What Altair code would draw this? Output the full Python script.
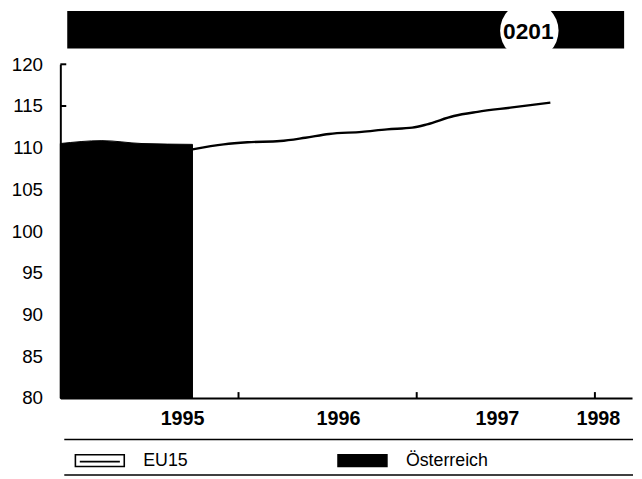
import altair as alt
import pandas as pd

# ---- data (x = months since Jan 1995) ----
years = ["1995", "1996", "1997", "1998"]
year_label_pos = [8.2, 18.7, 29.4, 36.2]
year_ticks = [12, 24, 36]
y_ticks = [80, 85, 90, 95, 100, 105, 110, 115, 120]

oest_m = [0, 2.8, 5.5, 8.9]
oest_v = [110.5, 110.85, 110.5, 110.4]

eu_m = [8.9, 11, 12.6, 14.8, 16.5, 18.1, 20.3, 22, 23.7, 24.7, 26.5, 28.1, 30.3, 33]
eu_v = [109.8, 110.4, 110.65, 110.8, 111.2, 111.65, 111.9, 112.2, 112.4, 112.8, 113.8, 114.3, 114.8, 115.4]

series = ["EU15", "Österreich"]
header_code = "0201"

W, H = 579, 338
FONT = "Liberation Sans"

oest_df = pd.DataFrame({"m": oest_m, "v": oest_v, "s": "Österreich"})
eu_df = pd.DataFrame({"m": eu_m, "v": eu_v, "s": "EU15"})
ytick_df = pd.DataFrame({"v": y_ticks})
xtick_df = pd.DataFrame({"m": year_ticks})
one = pd.DataFrame({"k": [0]})

label_expr = "[" + ",".join(f"'{y}'" for y in years) + "][indexof([" + ",".join(str(p) for p in year_label_pos) + "], datum.value)]"

xscale = alt.Scale(domain=[0, 38.5], nice=False, zero=False)
yscale = alt.Scale(domain=[80, 120], nice=False, zero=False)
xaxis = alt.Axis(values=year_label_pos, labelExpr=label_expr, ticks=False, tickSize=0,
                 labelPadding=11, labelFont=FONT, labelFontSize=20, labelFontWeight="bold",
                 labelColor="black", domainColor="black", domainWidth=2, grid=False,
                 labelFlush=False, labelOverlap=False)
yaxis = alt.Axis(values=y_ticks, ticks=False, tickSize=0, labelPadding=18, labelFont=FONT,
                 labelFontSize=19, labelColor="black", domainColor="black", domainWidth=2,
                 grid=False)

X = alt.X("m:Q", scale=xscale, axis=xaxis, title=None)
Y = alt.Y("v:Q", scale=yscale, axis=yaxis, title=None)

area = alt.Chart(oest_df).mark_area(interpolate="monotone", stroke="black", strokeWidth=1).encode(
    x=X, y=Y, y2=alt.datum(80),
    fill=alt.Fill("s:N", scale=alt.Scale(domain=series, range=["white", "black"]),
                  legend=alt.Legend(title=None, orient="none", legendX=14, legendY=375,
                                    direction="horizontal",
                                    symbolType="M-1,-0.24H1V0.24H-1Z M-0.82,0.04H0.82",
                                    symbolSize=2450,
                                    symbolStrokeColor="black", symbolStrokeWidth=1.6,
                                    labelFont=FONT, labelFontSize=18, labelColor="black",
                                    labelOffset=18, columnPadding=148, padding=0)),
)

line = alt.Chart(eu_df).mark_line(interpolate="monotone", color="black", strokeWidth=2.4).encode(
    x=X, y=Y
)

yt = alt.Chart(ytick_df).mark_rule(color="black", strokeWidth=2).encode(
    y=Y, x=alt.value(0), x2=alt.value(6)
)
xt = alt.Chart(xtick_df).mark_rule(color="black", strokeWidth=2).encode(
    x=X, y=alt.value(H - 6), y2=alt.value(H)
)

bar = alt.Chart(one).mark_rect(color="black").encode(
    x=alt.value(7), x2=alt.value(571), y=alt.value(-54), y2=alt.value(-16)
)
circ = alt.Chart(one).mark_circle(color="white", opacity=1, size=3500).encode(
    x=alt.value(475), y=alt.value(-34)
)
code = alt.Chart(pd.DataFrame({"t": [header_code]})).mark_text(
    font=FONT, fontSize=23, fontWeight="bold", color="black", align="center", baseline="middle"
).encode(text="t:N", x=alt.value(474), y=alt.value(-33))

rule_top = alt.Chart(one).mark_rule(color="black", strokeWidth=1.5).encode(
    x=alt.value(4), x2=alt.value(580), y=alt.value(380)
)
rule_bot = alt.Chart(one).mark_rule(color="black", strokeWidth=1.5).encode(
    x=alt.value(4), x2=alt.value(580), y=alt.value(416)
)

chart = alt.layer(bar, circ, code, area, line, yt, xt, rule_top, rule_bot).properties(
    width=W, height=H,
    autosize=alt.AutoSizeParams(type="none"),
    padding={"left": 53, "top": 54, "right": 2, "bottom": 78},
    background="white",
).configure_view(stroke=None)

chart.save("out.html", embed_options={"renderer": "svg", "actions": False})
